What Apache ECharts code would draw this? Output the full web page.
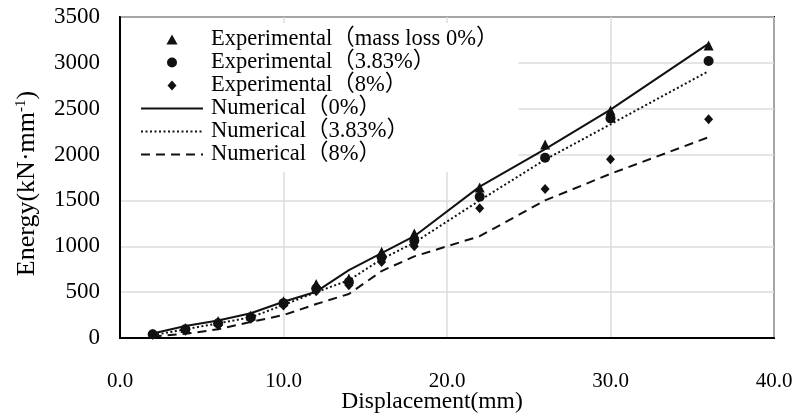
<!DOCTYPE html>
<html>
<head>
<meta charset="utf-8">
<script src="https://cdn.jsdelivr.net/npm/echarts@6/dist/echarts.min.js"></script>
<style>
  html, body { margin: 0; padding: 0; background: #fff; }
  #chart { width: 792px; height: 416px; }
</style>
</head>
<body>
<div id="chart"></div>
<script>
// Displacement steps (mm)
const displacement = [2, 4, 6, 8, 10, 12, 14, 16, 18, 22, 26, 30, 36];

// Experimental energy (kN·mm^-1) for each mass-loss level
const expLoss0   = [45, 110, 185, 245, 400, 590, 650, 940, 1140, 1640, 2110, 2480, 3190];
const expLoss383 = [40, 95, 160, 225, 380, 540, 610, 880, 1060, 1540, 1965, 2395, 3020];
const expLoss8   = [35, 80, 140, 210, 355, 510, 575, 830, 1000, 1415, 1625, 1950, 2385];

// Numerical energy (kN·mm^-1)
const numLoss0   = [50, 130, 190, 270, 395, 505, 740, 925, 1110, 1650, 2060, 2490, 3210];
const numLoss383 = [30, 95, 160, 225, 360, 500, 630, 860, 1040, 1500, 1945, 2330, 2910];
const numLoss8   = [15, 45, 95, 175, 250, 370, 480, 730, 890, 1110, 1500, 1790, 2190];

const seriesNames = [
  'Experimental（mass loss 0%）',
  'Experimental（3.83%）',
  'Experimental（8%）',
  'Numerical（0%）',
  'Numerical（3.83%）',
  'Numerical（8%）'
];

const xTicks = { min: 0, max: 40, interval: 10 };
const yTicks = { min: 0, max: 3500, interval: 500 };

const FONT = "'Liberation Serif', 'Noto Sans CJK SC', serif";
const INK = '#111';

// Marker outlines for the legend, so the symbols keep their proportions there
const LEGEND_ICONS = {
  triangle: 'path://M5,0L10,9L0,9Z',
  circle: 'path://M5,0A5,5,0,1,1,4.999,0Z',
  diamond: 'path://M4.5,0L9,5L4.5,10L0,5Z'
};

function pairs(ys) {
  return displacement.map((x, i) => [x, ys[i]]);
}

function scatter(name, ys, symbol, size) {
  return {
    name, type: 'scatter', data: pairs(ys), symbol, symbolSize: size,
    itemStyle: { color: INK, opacity: 1 }, z: 3
  };
}

function line(name, ys, type, width) {
  return {
    name, type: 'line', data: pairs(ys), symbol: 'none', showSymbol: false,
    lineStyle: { color: INK, width, type }, itemStyle: { color: INK }, z: 2
  };
}

const legendData = [
  { name: seriesNames[0], icon: LEGEND_ICONS.triangle, itemStyle: { color: INK, opacity: 1 } },
  { name: seriesNames[1], icon: LEGEND_ICONS.circle, itemStyle: { color: INK, opacity: 1 } },
  { name: seriesNames[2], icon: LEGEND_ICONS.diamond, itemStyle: { color: INK, opacity: 1 } },
  { name: seriesNames[3], itemStyle: { opacity: 0 } },
  { name: seriesNames[4], itemStyle: { opacity: 0 } },
  { name: seriesNames[5], itemStyle: { opacity: 0 } }
];

const chart = echarts.init(document.getElementById('chart'));
chart.setOption({
  animation: false,
  backgroundColor: '#fff',
  grid: {
    left: 120, right: 18, top: 17, bottom: 78,
    show: true, borderColor: '#000', borderWidth: 2,
    outerBoundsMode: 'none'
  },
  legend: {
    orient: 'vertical',
    left: 121, top: 23,
    z: 1,
    padding: [5, 20, 6, 19],
    backgroundColor: '#fff',
    itemWidth: 62, itemHeight: 10, itemGap: 0,
    selectedMode: false,
    data: legendData,
    textStyle: { fontFamily: FONT, fontSize: 22.5, color: '#000', lineHeight: 23, padding: [0, 0, 0, 3] }
  },
  xAxis: {
    type: 'value',
    min: xTicks.min, max: xTicks.max, interval: xTicks.interval,
    name: 'Displacement(mm)',
    nameLocation: 'middle',
    nameGap: 52,
    nameMoveOverlap: false,
    nameTextStyle: { fontFamily: FONT, fontSize: 23.5, color: '#000', padding: [0, 30, 0, 0] },
    axisLine: { show: true, lineStyle: { color: '#000', width: 2 } },
    axisTick: { show: false },
    axisLabel: {
      margin: 33, fontFamily: FONT, fontSize: 21, color: '#000',
      formatter: v => v.toFixed(1)
    },
    splitLine: { show: true, lineStyle: { color: '#dcdcdc', width: 1.5 } }
  },
  yAxis: {
    type: 'value',
    min: yTicks.min, max: yTicks.max, interval: yTicks.interval,
    name: '{t|Energy(kN·mm}{s|-1}{t|)}',
    nameLocation: 'middle',
    nameGap: 80,
    nameRotate: 90,
    nameMoveOverlap: false,
    nameTextStyle: {
      padding: [0, 12, 0, 0],
      rich: {
        t: { fontFamily: FONT, fontSize: 26, color: '#000' },
        s: { fontFamily: FONT, fontSize: 15, color: '#000', verticalAlign: 'top' }
      }
    },
    axisLine: { show: true, lineStyle: { color: '#000', width: 2 } },
    axisTick: { show: false },
    axisLabel: {
      margin: 20, fontFamily: FONT, fontSize: 23, color: '#000',
      formatter: v => String(v)
    },
    splitLine: { show: true, lineStyle: { color: '#dcdcdc', width: 1.5 } }
  },
  series: [
    scatter(seriesNames[0], expLoss0, 'triangle', 10),
    scatter(seriesNames[1], expLoss383, 'circle', 10),
    scatter(seriesNames[2], expLoss8, 'diamond', [9, 10]),
    line(seriesNames[3], numLoss0, 'solid', 2),
    line(seriesNames[4], numLoss383, [2, 2.5], 2),
    line(seriesNames[5], numLoss8, [9, 6], 2)
  ]
});
</script>
</body>
</html>
